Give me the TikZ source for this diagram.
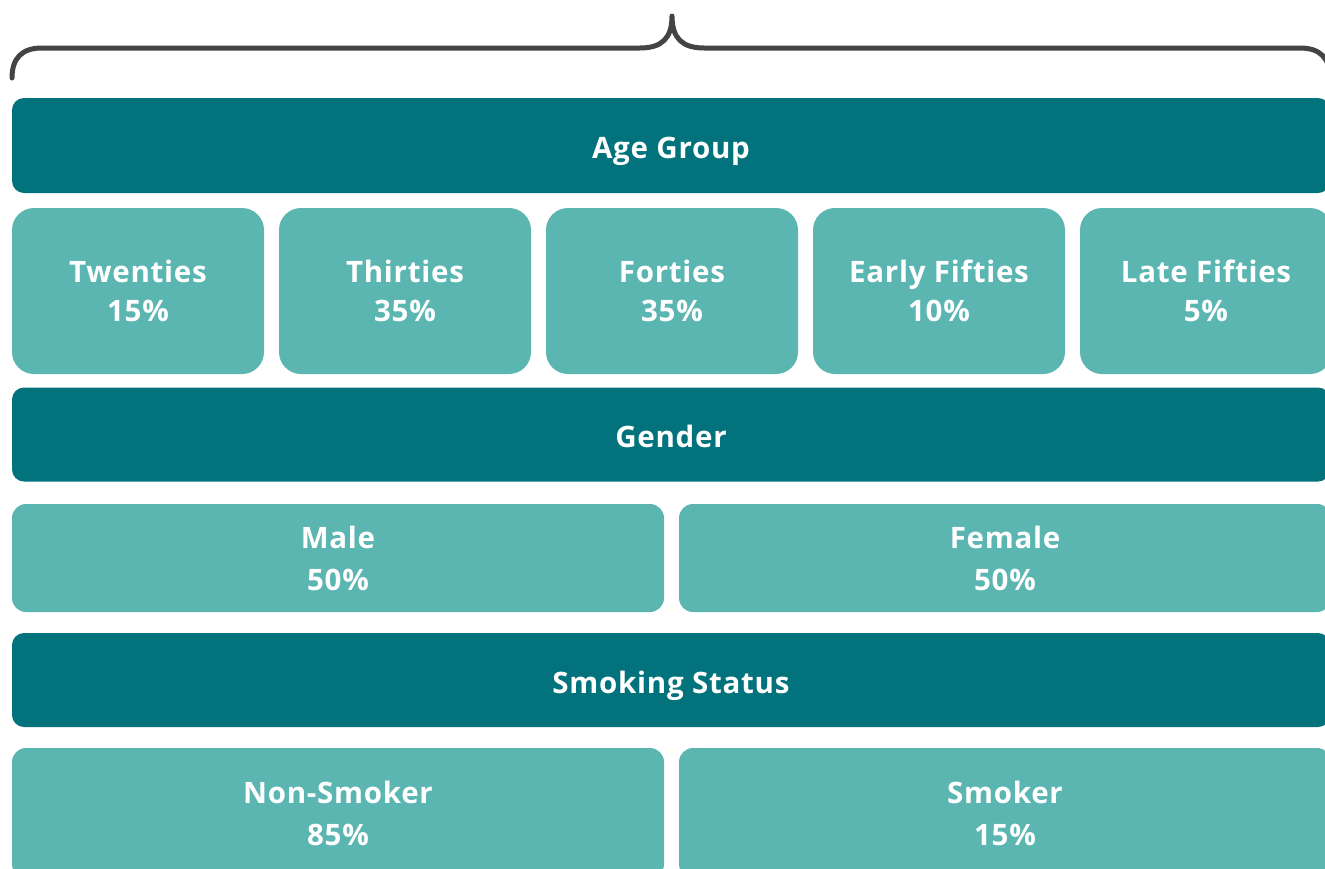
\documentclass[tikz,border=0pt]{standalone}
\usepackage{fontspec}
\setmainfont{Open Sans}[LetterSpace=2.5]
\begin{document}
\begin{tikzpicture}[x=1pt,y=-1pt,
  darkbar/.style={fill=darkteal, draw=none, rounded corners=12pt, text=white, font=\bfseries\fontsize{29.5}{30}\selectfont, inner sep=0pt, text height=26pt, text depth=0pt},
  lightbox/.style={fill=lightteal, draw=none, rounded corners=22pt, text=white, font=\bfseries\fontsize{29.5}{39}\selectfont, inner sep=0pt, align=center},
  widebox/.style={lightbox, rounded corners=14pt, font=\bfseries\fontsize{29.5}{42}\selectfont},
  bracestyle/.style={draw=bracegray, line width=5pt, line cap=round, line join=round}]
\definecolor{darkteal}{HTML}{02737C}
\definecolor{lightteal}{HTML}{5BB6B2}
\definecolor{bracegray}{HTML}{444444}
\useasboundingbox (0,0) rectangle (1325,868);
\clip (0,0) rectangle (1325,868);
% brace
\coordinate (bl) at (12,78);
\coordinate (br) at (1330,78);
\coordinate (bt) at (672,16);
\draw[bracestyle] (bl) .. controls (12,58) and (22,48) .. (42,48) -- (640,48)
  .. controls (662,48) and (672,38) .. (bt)
  .. controls (672,38) and (682,48) .. (704,48) -- (1300,48)
  .. controls (1320,48) and (1330,58) .. (br);
% age group
\node[darkbar, minimum width=1318pt, minimum height=95pt] (age) at (671,145.5) {Age Group};
\node[lightbox, minimum width=252pt, minimum height=166pt] (tw) at (138,291) {Twenties\\15\%};
\node[lightbox, minimum width=252pt, minimum height=166pt] (th) at (405,291) {Thirties\\35\%};
\node[lightbox, minimum width=252pt, minimum height=166pt] (fo) at (672,291) {Forties\\35\%};
\node[lightbox, minimum width=252pt, minimum height=166pt] (ef) at (939,291) {Early Fifties\\10\%};
\node[lightbox, minimum width=252pt, minimum height=166pt] (lf) at (1206,291) {Late Fifties\\5\%};
% gender
\node[darkbar, minimum width=1318pt, minimum height=94pt] (gen) at (671,434.5) {Gender};
\node[widebox, minimum width=652pt, minimum height=108pt] (male) at (338,558) {Male\\50\%};
\node[widebox, minimum width=652pt, minimum height=108pt] (fem) at (1005,558) {Female\\50\%};
% smoking
\node[darkbar, minimum width=1318pt, minimum height=94pt] (smk) at (671,680) {Smoking Status};
\node[widebox, minimum width=652pt, minimum height=130pt] (non) at (338,813) {Non-Smoker\\85\%};
\node[widebox, minimum width=652pt, minimum height=130pt] (sm) at (1005,813) {Smoker\\15\%};
\end{tikzpicture}
\end{document}
